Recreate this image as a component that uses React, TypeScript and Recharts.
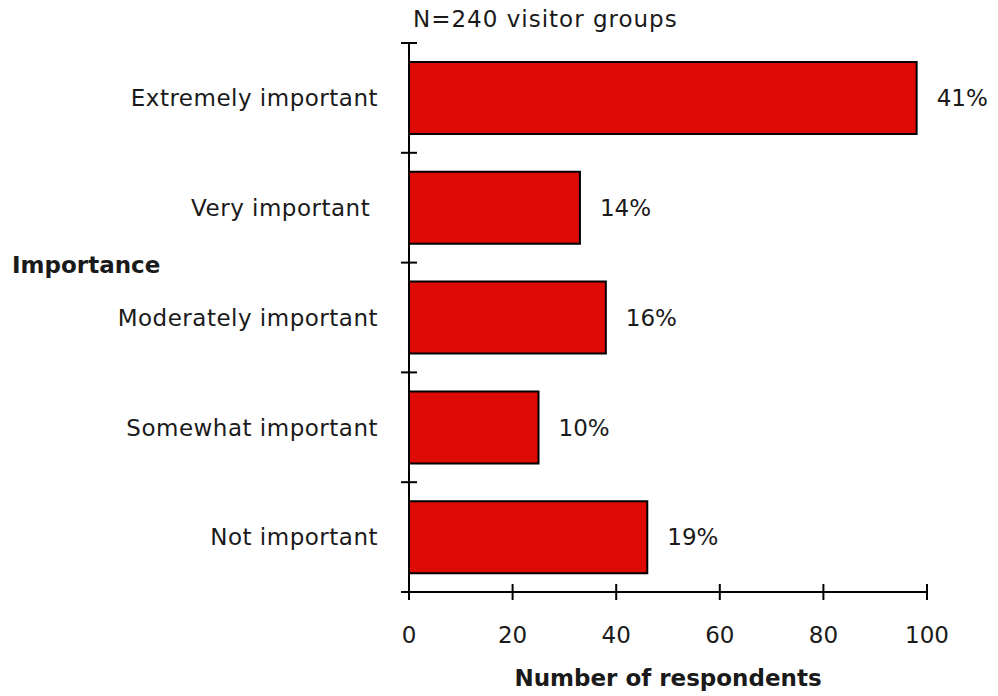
import React from "react";
import { BarChart, Bar, XAxis, YAxis, LabelList } from "recharts";

const categories = [
  "Extremely important",
  "Very important ",
  "Moderately important",
  "Somewhat important",
  "Not important",
];
const respondents = [98, 33, 38, 25, 46];
const totalGroups = 240;
const countTicks = [0, 20, 40, 60, 80, 100];

const sampleNote = `N=${totalGroups} visitor groups`;
const categoryTitle = "Importance";
const countTitle = "Number of respondents";

const FONT = "'DejaVu Sans', Verdana, sans-serif";
const INK = "#1a1a1a";
const BAR_RED = "#dd0a05";

const CHART_W = 998;
const CHART_H = 696;
const MARGIN = { top: 43, right: 71, bottom: 103, left: 408 };
const X_AXIS_H = 1;
const BAND_HALF =
  (CHART_H - MARGIN.top - MARGIN.bottom - X_AXIS_H) / categories.length / 2;

const data = categories.map((label, i) => ({ label, count: respondents[i] }));

// category name at the band centre, plus the crossing ticks at the band edges
function CategoryTick(props: any) {
  const { x, y, payload, index } = props;
  const half =
    typeof payload.offset === "number" && payload.offset > 0 ? payload.offset : BAND_HALF;
  const isLast = index === categories.length - 1;
  return (
    <g>
      <line x1={x - 8} x2={x + 8} y1={y - half} y2={y - half} stroke="#000" strokeWidth={2} />
      {isLast && (
        <line x1={x - 8} x2={x + 8} y1={y + half} y2={y + half} stroke="#000" strokeWidth={2} />
      )}
      <text
        x={x - 31}
        y={y}
        dy="0.36em"
        textAnchor="end"
        fontFamily={FONT}
        fontSize={23}
        letterSpacing={0.5}
        fill={INK}
        style={{ whiteSpace: "pre" }}
      >
        {payload.value}
      </text>
    </g>
  );
}

// ticks that cross the horizontal axis, with the value below
function CountTick(props: any) {
  const { x, y, payload } = props;
  return (
    <g>
      <line x1={x} x2={x} y1={y - 8} y2={y + 8} stroke="#000" strokeWidth={2} />
      <text
        x={x}
        y={y + 51}
        textAnchor="middle"
        fontFamily={FONT}
        fontSize={23}
        fill={INK}
      >
        {payload.value}
      </text>
    </g>
  );
}

function PercentLabel(props: any) {
  const { x, y, width, height, value } = props;
  const pct = Math.round((value / totalGroups) * 100);
  return (
    <text
      x={x + width + 20}
      y={y + height / 2}
      dy="0.36em"
      fontFamily={FONT}
      fontSize={23}
      fill={INK}
    >
      {`${pct}%`}
    </text>
  );
}

function CountTitle(props: any) {
  const vb = props.viewBox || { x: 409, y: 592, width: 518 };
  return (
    <text
      x={vb.x + vb.width / 2}
      y={vb.y + 94}
      textAnchor="middle"
      fontFamily={FONT}
      fontSize={23}
      fontWeight="bold"
      fill={INK}
    >
      {countTitle}
    </text>
  );
}

function CategoryTitles(props: any) {
  const vb = props.viewBox || { x: 408, y: 43 };
  return (
    <g>
      <text
        x={vb.x + 5}
        y={vb.y - 16}
        fontFamily={FONT}
        fontSize={23}
        letterSpacing={1}
        fill={INK}
      >
        {sampleNote}
      </text>
      <text x={12} y={vb.y + 230} fontFamily={FONT} fontSize={23} fontWeight="bold" fill={INK}>
        {categoryTitle}
      </text>
    </g>
  );
}

export default function App() {
  return (
    <div style={{ position: "absolute", left: 0, top: 0, background: "#fff" }}>
      <BarChart
        width={CHART_W}
        height={CHART_H}
        data={data}
        layout="vertical"
        margin={MARGIN}
      >
        <XAxis
          type="number"
          domain={[0, 100]}
          ticks={countTicks}
          height={X_AXIS_H}
          tickSize={0}
          tickMargin={0}
          tickLine={false}
          axisLine={{ stroke: "#000", strokeWidth: 2 }}
          tick={<CountTick />}
          interval={0}
          label={CountTitle}
        />
        <YAxis
          type="category"
          dataKey="label"
          width={1}
          tickSize={0}
          tickMargin={0}
          tickLine={false}
          axisLine={{ stroke: "#000", strokeWidth: 2 }}
          tick={<CategoryTick />}
          interval={0}
          label={CategoryTitles}
        />
        <Bar
          dataKey="count"
          fill={BAR_RED}
          stroke="#000"
          strokeWidth={2}
          barSize={72}
          isAnimationActive={false}
        >
          <LabelList dataKey="count" content={PercentLabel} />
        </Bar>
      </BarChart>
    </div>
  );
}
